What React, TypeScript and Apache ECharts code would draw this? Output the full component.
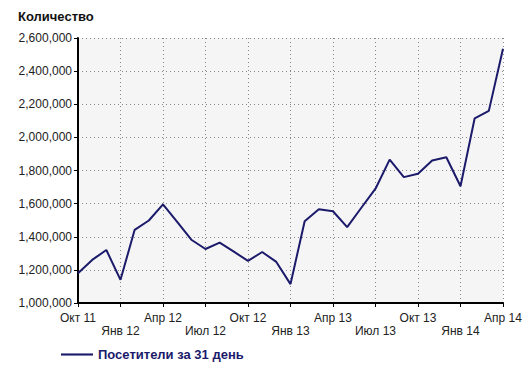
import React, { useEffect, useRef } from "react";
import * as echarts from "echarts";

const categories = [
  "Окт 11", "Ноя 11", "Дек 11", "Янв 12", "Фев 12", "Мар 12", "Апр 12", "Май 12",
  "Июн 12", "Июл 12", "Авг 12", "Сен 12", "Окт 12", "Ноя 12", "Дек 12", "Янв 13",
  "Фев 13", "Мар 13", "Апр 13", "Май 13", "Июн 13", "Июл 13", "Авг 13", "Сен 13",
  "Окт 13", "Ноя 13", "Дек 13", "Янв 14", "Фев 14", "Мар 14", "Апр 14",
];

const visitors = [
  1180000, 1260000, 1320000, 1140000, 1442000, 1498000, 1595000, 1490000,
  1382000, 1326000, 1365000, 1310000, 1254000, 1308000, 1248000, 1114000,
  1494000, 1566000, 1554000, 1458000, 1575000, 1690000, 1866000, 1760000,
  1780000, 1860000, 1880000, 1705000, 2115000, 2160000, 2535000,
];

const seriesName = "Посетители за 31 день";
const yTitle = "Количество";
const yMin = 1000000;
const yMax = 2600000;
const yStep = 200000;

const fmt = (v: number) => String(v).replace(/\B(?=(\d{3})+(?!\d))/g, ",");

export default function App() {
  const ref = useRef<HTMLDivElement>(null);
  useEffect(() => {
    if (!ref.current) return;
    const chart = echarts.init(ref.current, null, { renderer: "svg" });
    const font = "Liberation Sans, Arial, sans-serif";
    chart.setOption({
      animation: false,
      backgroundColor: "#ffffff",
      textStyle: { fontFamily: font },
      title: {
        text: yTitle,
        left: 13,
        top: 5,
        textStyle: { fontSize: 13, fontWeight: "bold", color: "#111", fontFamily: font },
      },
      legend: {
        left: 56,
        top: 343,
        itemWidth: 32,
        itemHeight: 10,
        itemGap: 10,
        textStyle: { fontSize: 13, fontWeight: "bold", color: "#1b1a6b", fontFamily: font },
        data: [{ name: seriesName, icon: "path://M0,4 L30,4 L30,6 L0,6 Z" }],
      },
      grid: {
        left: 78,
        right: 25,
        top: 38,
        bottom: 62,
        show: true,
        backgroundColor: "#f5f5f5",
        borderWidth: 0,
      },
      xAxis: {
        type: "category",
        data: categories,
        boundaryGap: false,
        axisLine: { show: true, lineStyle: { color: "#000", width: 2 } },
        axisTick: { show: true, interval: 2, length: 4, lineStyle: { color: "#000", width: 1 } },
        axisLabel: {
          interval: 2,
          color: "#222",
          fontSize: 12,
          fontFamily: font,
          margin: 8,
          lineHeight: 13,
          formatter: (v: string, i: number) => ((i / 3) % 2 === 1 ? "\n" + v : v),
        },
        splitLine: { show: true, interval: 2, lineStyle: { color: "#888", type: [1, 3], width: 1 } },
      },
      yAxis: {
        type: "value",
        min: yMin,
        max: yMax,
        interval: yStep,
        axisLine: { show: true, lineStyle: { color: "#000", width: 2 } },
        axisTick: { show: true, length: 4, lineStyle: { color: "#000", width: 1 } },
        axisLabel: { color: "#222", fontSize: 12, fontFamily: font, margin: 6, formatter: (v: number) => fmt(v) },
        splitLine: { show: true, lineStyle: { color: "#888", type: [1, 3], width: 1 } },
      },
      series: [
        {
          name: seriesName,
          type: "line",
          data: visitors,
          showSymbol: false,
          symbol: "none",
          lineStyle: { color: "#1b1a6b", width: 2 },
          itemStyle: { color: "#1b1a6b" },
        },
      ],
    });
    return () => chart.dispose();
  }, []);
  return <div ref={ref} style={{ width: 528, height: 365, position: "absolute", left: 0, top: 0 }} />;
}
